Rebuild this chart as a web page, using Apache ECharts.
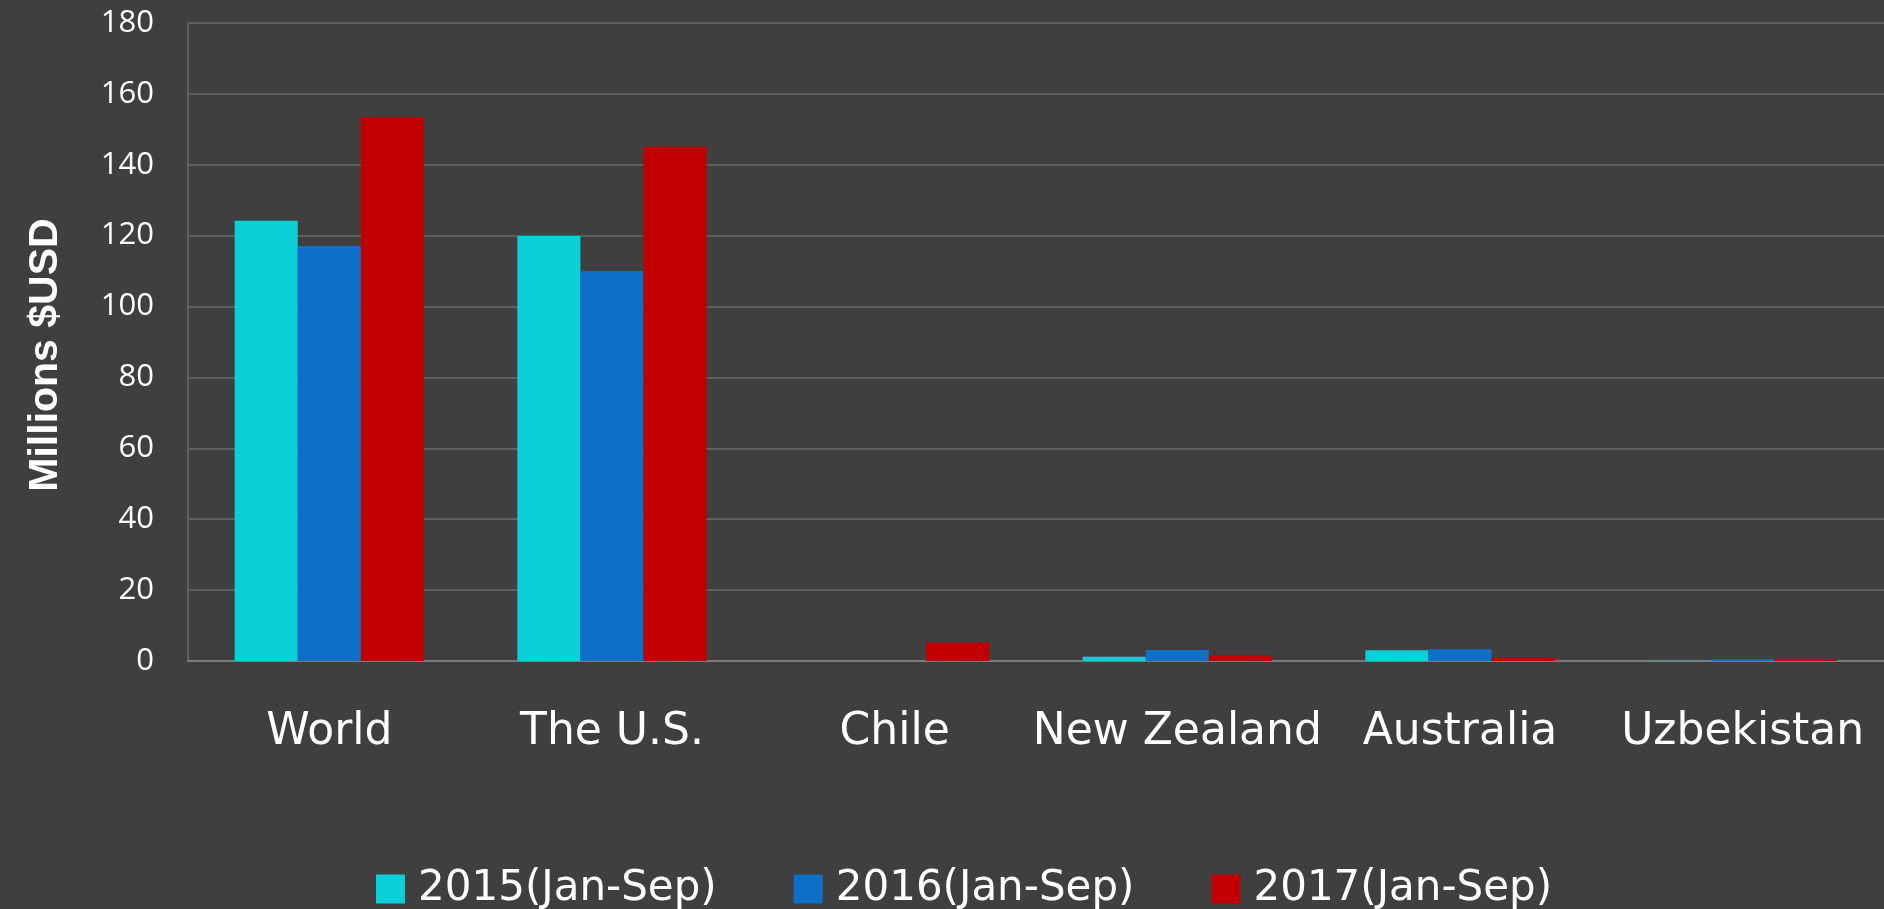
<!DOCTYPE html>
<html>
<head>
<meta charset="utf-8">
<script src="https://cdn.jsdelivr.net/npm/echarts@6/dist/echarts.min.js"></script>
<style>
html,body{margin:0;padding:0;background:#3f3f3f;}
#c{width:1884px;height:909px;}
</style>
</head>
<body>
<div id="c"></div>
<script>
const categories = ['World', 'The U.S.', 'Chile', 'New Zealand', 'Australia', 'Uzbekistan'];
const seriesNames = ['2015(Jan-Sep)', '2016(Jan-Sep)', '2017(Jan-Sep)'];
const values2015 = [124.2, 119.9, 0, 1.2, 3.0, 0.1];
const values2016 = [117.1, 110.0, 0, 3.1, 3.3, 0.5];
const values2017 = [153.4, 145.1, 5.2, 1.6, 0.85, 0.3];
const colors = ['#0ccfd8', '#0e6fc7', '#c00000'];

const chart = echarts.init(document.getElementById('c'), null, {renderer: 'canvas'});
const allValues = [values2015, values2016, values2017];
chart.setOption({
  backgroundColor: '#3f3f3f',
  animation: false,
  legend: {
    left: 371,
    top: 863,
    itemWidth: 29,
    itemHeight: 29,
    itemGap: 77,
    icon: 'rect',
    textStyle: {color: '#ffffff', fontSize: 42, fontFamily: 'DejaVu Sans', padding: [0, 0, 0, 8]},
    data: seriesNames
  },
  grid: {left: 188, right: 0, top: 23, bottom: 248, containLabel: false},
  xAxis: {
    type: 'category',
    data: categories,
    axisLine: {show: true, lineStyle: {color: '#7a7a7a', width: 2}},
    axisTick: {show: false},
    axisLabel: {color: '#ffffff', fontSize: 44, fontFamily: 'DejaVu Sans', margin: 50, interval: 0}
  },
  yAxis: {
    type: 'value',
    min: 0,
    max: 180,
    interval: 20,
    name: 'Millions $USD',
    nameLocation: 'middle',
    nameGap: 122,
    nameTextStyle: {color: '#ffffff', fontSize: 41, fontWeight: 'bold', fontFamily: 'Liberation Sans', padding: [0, 26, 0, 0]},
    axisLine: {show: true, lineStyle: {color: '#5e5e5e', width: 2}},
    axisTick: {show: false},
    axisLabel: {color: '#ffffff', fontSize: 31, fontFamily: 'Open Sans', margin: 34},
    splitLine: {lineStyle: {color: '#5e5e5e', width: 2}}
  },
  series: seriesNames.map((n, i) => ({
    name: n,
    type: 'bar',
    data: allValues[i],
    barGap: '0%',
    barCategoryGap: '33%',
    itemStyle: {color: colors[i]}
  }))
});
</script>
</body>
</html>
